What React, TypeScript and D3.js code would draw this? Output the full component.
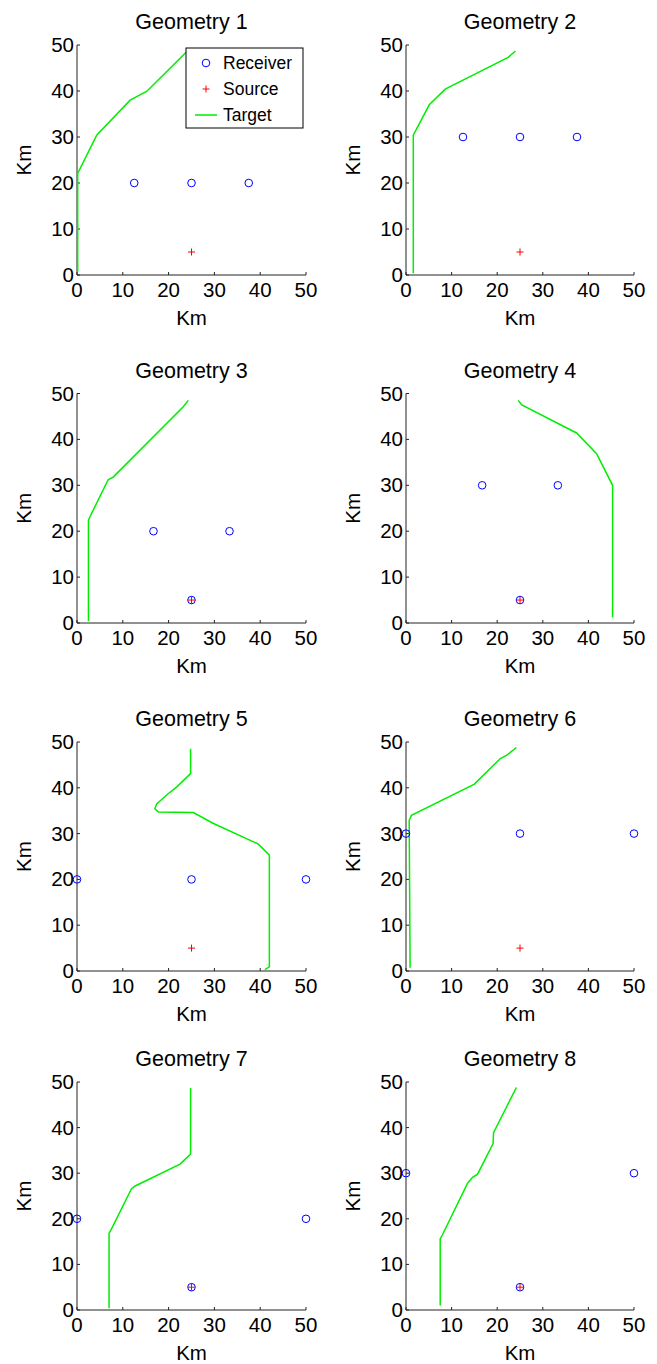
import React from 'react';
import * as d3 from 'd3';

const TITLES = ['Geometry 1', 'Geometry 2', 'Geometry 3', 'Geometry 4', 'Geometry 5', 'Geometry 6', 'Geometry 7', 'Geometry 8'];
const TICKS = [0, 10, 20, 30, 40, 50];
const AXIS_LABEL = 'Km';
const LEGEND_LABELS = ['Receiver', 'Source', 'Target'];

// Receivers
const g1RecX = [12.5, 25, 37.5]; const g1RecY = [20, 20, 20];
const g2RecX = [12.5, 25, 37.5]; const g2RecY = [30, 30, 30];
const g3RecX = [16.7, 33.3, 25]; const g3RecY = [20, 20, 5];
const g4RecX = [16.7, 33.3, 25]; const g4RecY = [30, 30, 5];
const g5RecX = [0, 25, 50]; const g5RecY = [20, 20, 20];
const g6RecX = [0, 25, 50]; const g6RecY = [30, 30, 30];
const g7RecX = [0, 50, 25]; const g7RecY = [20, 20, 5];
const g8RecX = [0, 50, 25]; const g8RecY = [30, 30, 5];

// Source
const SOURCE_X = [25, 25, 25, 25, 25, 25, 25, 25];
const SOURCE_Y = [5, 5, 5, 5, 5, 5, 5, 5];

// Targets
const g1TgtX = [0.15, 0.15, 4.3, 11.6, 15.2, 24.0];
const g1TgtY = [0.7, 22.1, 30.4, 38.0, 39.9, 48.6];
const g2TgtX = [1.6, 1.6, 5.1, 8.6, 22.4, 24.0];
const g2TgtY = [0.4, 30.4, 37.0, 40.4, 47.3, 48.7];
const g3TgtX = [2.5, 2.5, 2.8, 6.8, 7.9, 23.2, 24.3];
const g3TgtY = [0.4, 22.4, 23.1, 31.2, 31.8, 47.1, 48.5];
const g4TgtX = [24.6, 25.4, 37.4, 41.8, 45.3, 45.3];
const g4TgtY = [48.5, 47.5, 41.4, 36.9, 30.0, 1.2];
const g5TgtX = [24.8, 24.8, 21.8, 19.9, 17.4, 17.0, 17.8, 25.4, 29.8, 39.6, 42.0, 42.0, 41.0];
const g5TgtY = [48.5, 43.1, 40.2, 38.7, 36.5, 35.4, 34.7, 34.6, 32.2, 27.7, 25.3, 0.9, 0.3];
const g6TgtX = [0.9, 0.7, 1.2, 15.0, 20.7, 22.2, 24.2];
const g6TgtY = [0.7, 32.9, 34.0, 40.8, 46.4, 47.2, 48.8];
const g7TgtX = [7.0, 7.0, 7.4, 11.9, 12.7, 22.5, 24.8, 24.8];
const g7TgtY = [0.4, 16.8, 17.5, 26.6, 27.2, 32.0, 34.2, 48.7];
const g8TgtX = [7.5, 7.5, 8.0, 13.5, 14.6, 15.7, 19.1, 19.2, 24.2];
const g8TgtY = [1.0, 15.6, 16.5, 27.8, 29.1, 29.8, 36.5, 38.9, 48.8];

const REC_X = [g1RecX, g2RecX, g3RecX, g4RecX, g5RecX, g6RecX, g7RecX, g8RecX];
const REC_Y = [g1RecY, g2RecY, g3RecY, g4RecY, g5RecY, g6RecY, g7RecY, g8RecY];
const TGT_X = [g1TgtX, g2TgtX, g3TgtX, g4TgtX, g5TgtX, g6TgtX, g7TgtX, g8TgtX];
const TGT_Y = [g1TgtY, g2TgtY, g3TgtY, g4TgtY, g5TgtY, g6TgtY, g7TgtY, g8TgtY];

const W = 657;
const H = 1364;
const COL_L = [77, 406];
const COL_R = [306, 634];
const ROW_T = [45, 393.5, 742, 1082];
const ROW_B = [275, 623, 971, 1310];
const FONT = 'Liberation Sans, Arial, Helvetica, sans-serif';
const BLUE = '#0000ff';
const RED = '#ff0000';
const GREEN = '#00ee00';

function Plus({ cx, cy, s, color }: { cx: number; cy: number; s: number; color: string }) {
  return (
    <g stroke={color} strokeWidth={1}>
      <line x1={cx - s} x2={cx + s} y1={cy} y2={cy} />
      <line x1={cx} x2={cx} y1={cy - s} y2={cy + s} />
    </g>
  );
}

function Panel({ i }: { i: number }) {
  const col = i % 2;
  const row = Math.floor(i / 2);
  const x = d3.scaleLinear().domain([0, 50]).range([COL_L[col], COL_R[col]]);
  const y = d3.scaleLinear().domain([0, 50]).range([ROW_B[row], ROW_T[row]]);
  const pts: [number, number][] = TGT_X[i].map((v, k) => [v, TGT_Y[i][k]]);
  const line = d3.line<[number, number]>().x(d => x(d[0])).y(d => y(d[1]));
  const x0 = x(0), y0 = y(0);
  const midX = (x(0) + x(50)) / 2;
  const midY = (y(0) + y(50)) / 2;
  return (
    <g>
      <text x={midX} y={y(50) - 16} textAnchor="middle" fontSize={21.5} fontFamily={FONT} fill="#000">{TITLES[i]}</text>
      {/* axes */}
      <g stroke="#222" strokeWidth={1} fill="none">
        <line x1={x0} x2={x(50)} y1={y0} y2={y0} />
        <line x1={x0} x2={x0} y1={y0} y2={y(50)} />
        {TICKS.map(t => (
          <line key={'xt' + t} x1={x(t)} x2={x(t)} y1={y0} y2={y0 - 3} />
        ))}
        {TICKS.map(t => (
          <line key={'yt' + t} x1={x0} x2={x0 + 3} y1={y(t)} y2={y(t)} />
        ))}
      </g>
      {TICKS.map(t => (
        <text key={'xl' + t} x={x(t)} y={y0 + 22} textAnchor="middle" fontSize={20.5} fontFamily={FONT} fill="#000">{t}</text>
      ))}
      {TICKS.map(t => (
        <text key={'yl' + t} x={x0 - 3} y={y(t) + 7} textAnchor="end" fontSize={20.5} fontFamily={FONT} fill="#000">{t}</text>
      ))}
      <text x={midX} y={y0 + 50} textAnchor="middle" fontSize={20.5} fontFamily={FONT} fill="#000">{AXIS_LABEL}</text>
      <text transform={`translate(${x0 - 46},${midY}) rotate(-90)`} textAnchor="middle" fontSize={20.5} fontFamily={FONT} fill="#000">{AXIS_LABEL}</text>
      {/* data */}
      <path d={line(pts) || ''} fill="none" stroke={GREEN} strokeWidth={1.5} />
      {REC_X[i].map((v, k) => (
        <circle key={'r' + k} cx={x(v)} cy={y(REC_Y[i][k])} r={3.8} fill="none" stroke={BLUE} strokeWidth={1} />
      ))}
      <Plus cx={x(SOURCE_X[i])} cy={y(SOURCE_Y[i])} s={3.5} color={RED} />
    </g>
  );
}

function Legend() {
  const lx = 186, ly = 48, lw = 117, lh = 80;
  const rows = [63, 89, 115];
  return (
    <g>
      <rect x={lx} y={ly} width={lw} height={lh} fill="#fff" stroke="#000" strokeWidth={1} />
      <circle cx={206} cy={rows[0]} r={3.8} fill="none" stroke={BLUE} strokeWidth={1} />
      <Plus cx={206} cy={rows[1]} s={3.5} color={RED} />
      <line x1={195} x2={217} y1={rows[2]} y2={rows[2]} stroke={GREEN} strokeWidth={1.5} />
      {LEGEND_LABELS.map((l, k) => (
        <text key={l} x={223} y={rows[k] + 6} fontSize={17.5} fontFamily={FONT} fill="#000">{l}</text>
      ))}
    </g>
  );
}

export default function App() {
  return (
    <svg width={W} height={H} style={{ position: 'absolute', left: 0, top: 0, background: '#fff' }}>
      <rect x={0} y={0} width={W} height={H} fill="#fff" />
      {TITLES.map((_, i) => <Panel key={i} i={i} />)}
      <Legend />
    </svg>
  );
}
